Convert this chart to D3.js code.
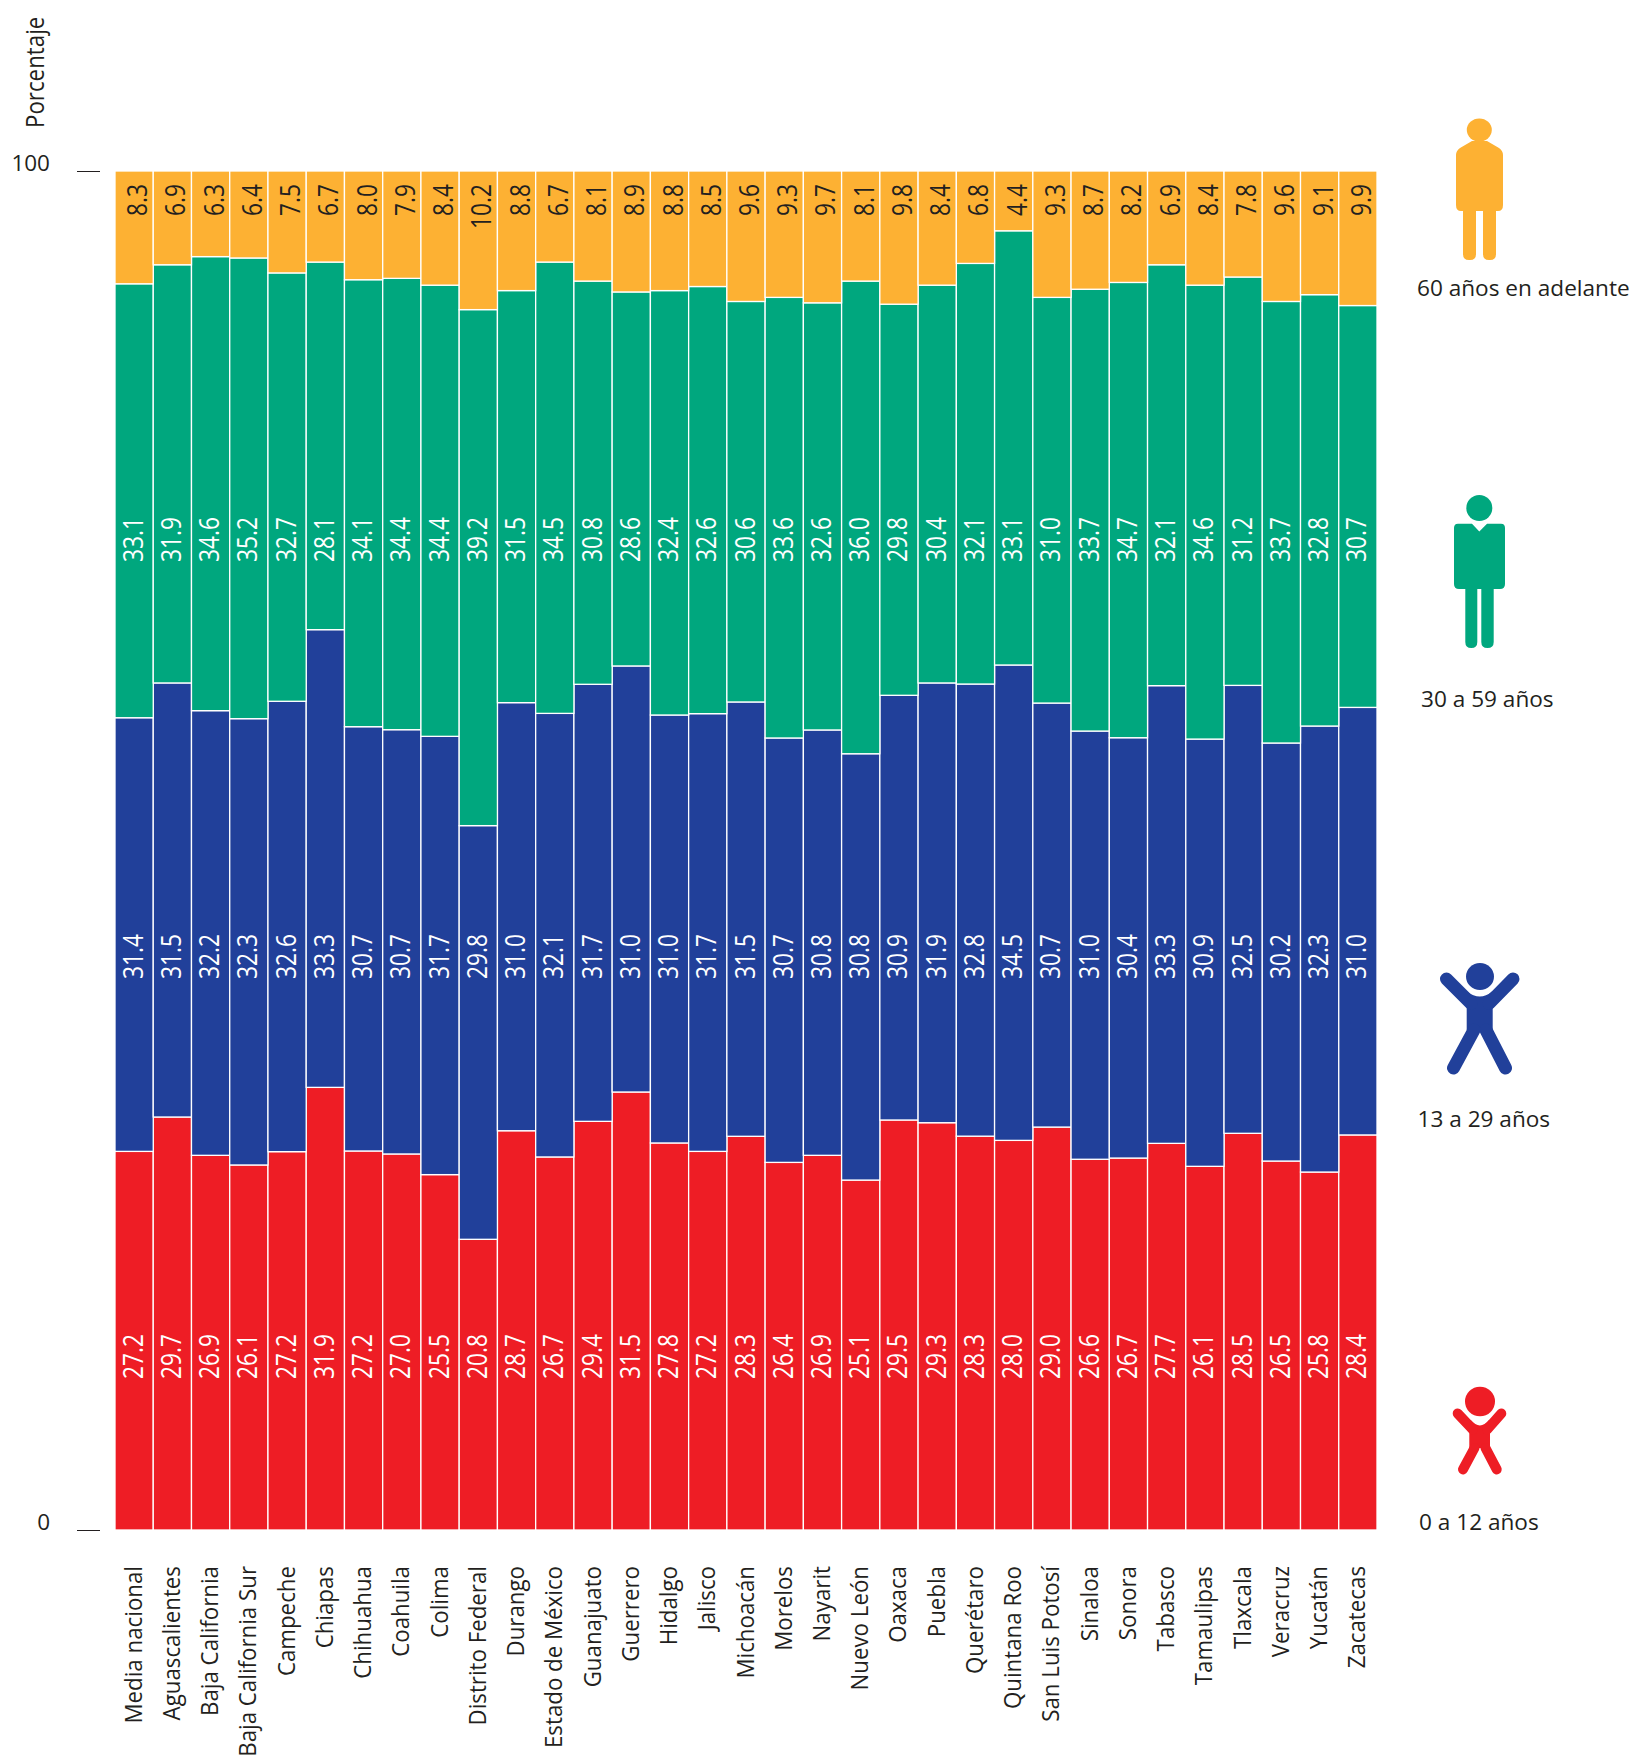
<!DOCTYPE html>
<html><head><meta charset="utf-8">
<script src="https://cdn.jsdelivr.net/npm/d3@7"></script>
<style>html,body{margin:0;padding:0;background:#fff}svg{display:block}text{font-family:"Open Sans",sans-serif;fill:#231F20}</style>
</head><body><svg id="c" width="1632" height="1757"></svg>
<script>
const categories=["Media nacional","Aguascalientes","Baja California","Baja California Sur","Campeche","Chiapas","Chihuahua","Coahuila","Colima","Distrito Federal","Durango","Estado de México","Guanajuato","Guerrero","Hidalgo","Jalisco","Michoacán","Morelos","Nayarit","Nuevo León","Oaxaca","Puebla","Querétaro","Quintana Roo","San Luis Potosí","Sinaloa","Sonora","Tabasco","Tamaulipas","Tlaxcala","Veracruz","Yucatán","Zacatecas"];
// Printed values
const age0to12=[27.2,29.7,26.9,26.1,27.2,31.9,27.2,27.0,25.5,20.8,28.7,26.7,29.4,31.5,27.8,27.2,28.3,26.4,26.9,25.1,29.5,29.3,28.3,28.0,29.0,26.6,26.7,27.7,26.1,28.5,26.5,25.8,28.4];
const age13to29=[31.4,31.5,32.2,32.3,32.6,33.3,30.7,30.7,31.7,29.8,31.0,32.1,31.7,31.0,31.0,31.7,31.5,30.7,30.8,30.8,30.9,31.9,32.8,34.5,30.7,31.0,30.4,33.3,30.9,32.5,30.2,32.3,31.0];
const age30to59=[33.1,31.9,34.6,35.2,32.7,28.1,34.1,34.4,34.4,39.2,31.5,34.5,30.8,28.6,32.4,32.6,30.6,33.6,32.6,36.0,29.8,30.4,32.1,33.1,31.0,33.7,34.7,32.1,34.6,31.2,33.7,32.8,30.7];
const age60plus=[8.3,6.9,6.3,6.4,7.5,6.7,8.0,7.9,8.4,10.2,8.8,6.7,8.1,8.9,8.8,8.5,9.6,9.3,9.7,8.1,9.8,8.4,6.8,4.4,9.3,8.7,8.2,6.9,8.4,7.8,9.6,9.1,9.9];
// Drawn boundaries: in the reference the segments do not quite follow the printed numbers
const drawnRedTop=[27.86,30.39,27.57,26.86,27.84,32.57,27.89,27.67,26.15,21.39,29.38,27.45,30.07,32.23,28.48,27.86,28.97,27.05,27.57,25.75,30.17,29.97,28.98,28.67,29.65,27.28,27.37,28.45,26.76,29.19,27.15,26.34,29.07];
const drawnBlueTop=[59.77,62.33,60.29,59.70,60.98,66.25,59.11,58.89,58.40,51.83,60.88,60.09,62.23,63.58,59.97,60.07,60.93,58.28,58.87,57.12,61.42,62.33,62.25,63.65,60.85,58.79,58.30,62.13,58.20,62.15,57.91,59.16,60.53];
const seriesKeys=["0 a 12 años","13 a 29 años","30 a 59 años","60 años en adelante"];
const printedValues=[age0to12,age13to29,age30to59,age60plus];
const seriesColors=["#EE1D25","#21409A","#00A77E","#FDB133"];
const valueColors=["#fff","#fff","#fff","#231F20"];
const yTicks=[0,100];

const svg=d3.select("#c");
const x=d3.scaleBand().domain(categories).range([115,1377]).padding(0);
const y=d3.scaleLinear().domain([0,100]).range([1530,171]);
const rows=categories.map((c,i)=>({cat:c,
  [seriesKeys[0]]:drawnRedTop[i],
  [seriesKeys[1]]:drawnBlueTop[i]-drawnRedTop[i],
  [seriesKeys[2]]:100-age60plus[i]-drawnBlueTop[i],
  [seriesKeys[3]]:age60plus[i]}));
const stacked=d3.stack().keys(seriesKeys)(rows);

const rot=(px,py,s)=>`translate(${px},${py}) rotate(-90) scale(1,${s})`;

svg.append("g").selectAll("g").data(stacked).join("g").attr("fill",(d,i)=>seriesColors[i])
  .selectAll("rect").data(d=>d).join("rect")
  .attr("x",d=>x(d.data.cat)).attr("width",x.bandwidth())
  .attr("y",d=>y(d[1])).attr("height",d=>y(d[0])-y(d[1]))
  .attr("stroke","#fff").attr("stroke-width",1.3);

const valueTop=[1334,934,517,184];
const valueOffset=[8.5,8.5,8.5,13];
svg.append("g").selectAll("g").data(printedValues).join("g").each(function(vals,j){
  d3.select(this).selectAll("text").data(vals).join("text")
    .attr("transform",(v,i)=>rot(x(categories[i])+x.bandwidth()/2+valueOffset[j],valueTop[j],1.22))
    .attr("text-anchor","end").attr("font-size",22.7)
    .style("fill",valueColors[j]).text(v=>v.toFixed(1));
});

const yAxis=svg.append("g").attr("transform","translate(100,0)")
  .call(d3.axisLeft(y).tickValues(yTicks).tickSize(23).tickPadding(27).tickFormat(d3.format("d")));
yAxis.select(".domain").remove();
yAxis.selectAll("line").attr("stroke","#231F20").attr("stroke-width",1);
yAxis.selectAll("text").attr("dy",-1).attr("y",0).attr("font-size",22.5).style("font-family",'"Open Sans",sans-serif');

svg.append("text").attr("transform",rot(44,128,1.1)).attr("font-size",22.3).text("Porcentaje");

const xAxis=svg.append("g").attr("transform","translate(0,1566)")
  .call(d3.axisBottom(x).tickSize(0));
xAxis.select(".domain").remove();
xAxis.selectAll("text").attr("y",0).attr("dy",0).attr("font-size",22.3)
  .style("font-family",'"Open Sans",sans-serif').attr("text-anchor","end")
  .attr("transform","translate(7.5,0) rotate(-90) scale(1,1.09)");

const legendLabels=[["60 años en adelante",1417,295.5],["30 a 59 años",1421,707],["13 a 29 años",1417.5,1127],["0 a 12 años",1419,1529.5]];
svg.append("g").selectAll("text").data(legendLabels).join("text")
  .attr("x",d=>d[1]).attr("y",d=>d[2]).attr("font-size",22.6).text(d=>d[0]);

const g=svg.append("g");
const limb=(color,w,d)=>g.append("path").attr("fill","none").attr("stroke",color).attr("stroke-width",w).attr("stroke-linecap","round").attr("d",d);
// 60+
g.append("ellipse").attr("cx",1479.3).attr("cy",130).attr("rx",12.5).attr("ry",11.5).attr("fill","#FDB133");
g.append("path").attr("fill","#FDB133").attr("d","M1472 141L1460 148Q1456 151 1456 155V205Q1456 211 1461 211H1463V254Q1463 260 1469 260H1470Q1476 260 1476 254V211H1483V254Q1483 260 1489 260H1490Q1496 260 1496 254V211H1498Q1503 211 1503 205V155Q1503 151 1499 148L1487 141Z");
// 30-59
g.append("ellipse").attr("cx",1479.3).attr("cy",508).attr("rx",13).attr("ry",13).attr("fill","#00A77E");
g.append("path").attr("fill","#00A77E").attr("d","M1458 523.7H1472L1479.3 531.6L1487 523.7H1501Q1505 523.7 1505 528V584Q1505 589 1500 589H1493.7V642Q1493.7 648 1487.5 648Q1481.3 648 1481.3 642V589H1477.3V642Q1477.3 648 1471.3 648Q1465.3 648 1465.3 642V589H1459Q1454 589 1454 584V528Q1454 523.7 1458 523.7Z");
// 13-29
const blue="#21409A";
g.append("ellipse").attr("cx",1480).attr("cy",976.5).attr("rx",14).attr("ry",13.6).attr("fill",blue);
g.append("path").attr("fill",blue).attr("d","M1467 991.4Q1480 1001.6 1492 991.4L1497 998L1492.7 1007V1030H1466.7V1007L1462 998Z");
limb(blue,13,"M1446.5 979L1471 1003.5M1513 979L1489 1003.5M1453.5 1068L1474 1030M1505.5 1068L1486 1030");
// 0-12
const red="#EE1D25";
g.append("ellipse").attr("cx",1480).attr("cy",1401.5).attr("rx",15).attr("ry",14.8).attr("fill",red);
g.append("path").attr("fill",red).attr("d","M1470.7 1420Q1480 1430.8 1489 1420L1494 1427L1490 1433V1448H1469.3V1433L1466 1427Z");
limb(red,10,"M1457.7 1413.5L1472.8 1429.5M1501.3 1413.5L1487.2 1429.5M1463 1469.4L1474.5 1448M1496.7 1469.4L1485.5 1448");
</script></body></html>
